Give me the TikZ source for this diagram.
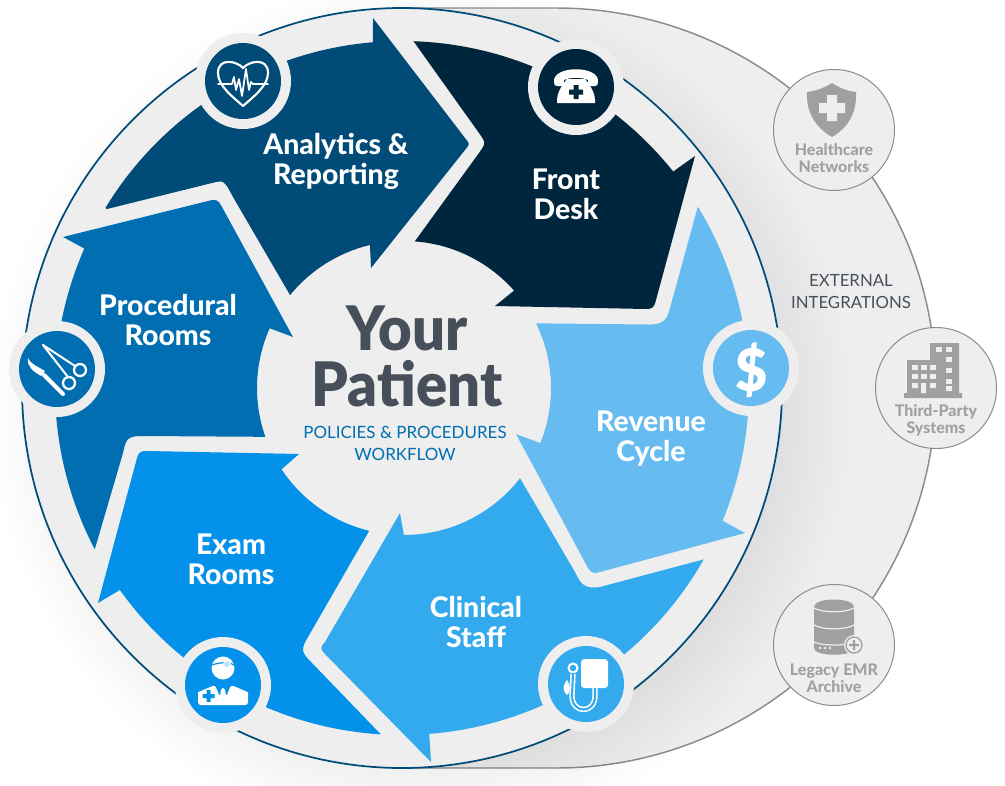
\documentclass[tikz,border=0pt]{standalone}
\usepackage{fontspec}
\setmainfont{Lato}
\newfontfamily\latoblack{Lato}[UprightFont=* Black,FakeStretch=0.945]
\newfontfamily\latoheavy{Lato}[UprightFont=* Heavy]
\definecolor{cAna}{HTML}{004B78}
\definecolor{cFro}{HTML}{00263E}
\definecolor{cRev}{HTML}{66BCF1}
\definecolor{cCli}{HTML}{33A9EE}
\definecolor{cExa}{HTML}{0491E9}
\definecolor{cPro}{HTML}{006EB0}
\definecolor{cBg}{HTML}{EEEEEE}
\definecolor{cInk}{HTML}{47505A}
\definecolor{cGr}{HTML}{A0A0A0}
\definecolor{cLine}{HTML}{8C8C8C}
% #1 colour, #2:#3 outer arc, #4 head path, #5:#6 inner arc, #7 notch path
\newcommand\ArrowShape[7]{\fill[#1] plot[domain=#2:#3,samples=40] ({402+347*cos(\x)},{388+347*sin(\x)}) #4 -- plot[domain=#5:#6,samples=30] ({404+147*cos(\x)},{388+147*sin(\x)}) #7 -- cycle;}
\tikzset{
  steplabel/.style={text=white,align=center,font=\latoheavy\fontsize{21.3}{22.5}\selectfont,inner sep=0pt},
  extlabel/.style={text=cGr,align=center,font=\latoheavy\fontsize{12}{12.9}\selectfont,inner sep=0pt},
  ring/.style={fill=cBg},
  extdisc/.style={fill=cBg,draw=cLine,line width=.75pt},
  icw/.style={draw=white,line cap=round,line join=round}
}
\begin{document}
\begin{tikzpicture}[x=.75pt,y=-.75pt]
\clip (0,0) rectangle (1005,785);
\fill[white] (0,0) rectangle (1005,785);
% external band
\path[fill=cBg,draw=cLine,line width=1.1pt] (402,8) -- (556,8) arc[start angle=-90,end angle=90,radius=380] -- (402,768) -- cycle;
% soft shadow: stacked faint discs
\foreach \rr in {360,365,...,430}{\fill[black,opacity=.005] (422,410) circle[radius=\rr];}
% main disc
\fill[cBg,draw=cAna,line width=1.3pt] (402,388) circle[radius=380];
% arrows
\ArrowShape{cAna}{211.25}{265.2}{-- (373,18) -- (465,138) .. controls (470,144) and (470,144) .. (465,150) -- (371,268) -- (370,246)}{256.5}{219.2}{-- (233,197) .. controls (224,180) and (224,180) .. (212,183) -- (107,209)}
\ArrowShape{cFro}{-88.1}{-38.6}{-- (695,156) -- (656,300) .. controls (654,308) and (652,309) .. (646,309) -- (495,306) -- (513.5,291)}{-41.5}{-85.8}{-- (479,153) .. controls (486,143) and (486,143) .. (479,133)}
\ArrowShape{cRev}{-31.5}{22.5}{-- (745,533) -- (600,572) .. controls (594,574) and (591,573) .. (588,568) -- (516,434) -- (540,443)}{22}{-26.1}{-- (648,324.5) .. controls (663,325) and (667,320) .. (670,308)}
\ArrowShape{cCli}{29.6}{85.5}{-- (431,762) -- (325,654) .. controls (320,648) and (320,648) .. (325,642) -- (400,513) -- (404,536)}{90}{37.9}{-- (575,572) .. controls (581,585) and (585,589) .. (600,587)}
\ArrowShape{cExa}{93.5}{144.4}{-- (98,603) -- (137,458) .. controls (139,451) and (142,451) .. (147,451) -- (299,454) -- (282,469)}{146.4}{103.7}{-- (308,637) .. controls (300,650) and (302,653) .. (312,663)}
\ArrowShape{cPro}{152.3}{203.7}{-- (63,237) -- (208,201) .. controls (217,198.5) and (218,200) .. (222,207) -- (293,337) -- (269,328)}{204}{160.6}{-- (143,436) .. controls (128,436) and (126,438) .. (123,453)}
% icon rings and discs
\fill[ring] (243,81) circle[radius=48]; \fill[cAna] (243,81) circle[radius=38];
\fill[ring] (576,87) circle[radius=48]; \fill[cFro] (576,87) circle[radius=38];
\fill[ring] (751,368) circle[radius=48]; \fill[cRev] (751,368) circle[radius=38];
\fill[ring] (586,684) circle[radius=48]; \fill[cCli] (586,684) circle[radius=38];
\fill[ring] (223,685) circle[radius=48]; \fill[cExa] (223,685) circle[radius=38];
\fill[ring] (57,369) circle[radius=48]; \fill[cPro] (57,369) circle[radius=38];
% heart
\begin{scope}[shift={(243,81)}]
\draw[icw,line width=1.6pt] (0,-13) .. controls (-6,-20) and (-25,-24) .. (-25,-8) .. controls (-25,5) and (-10,16) .. (0,25) .. controls (10,16) and (25,5) .. (25,-8) .. controls (25,-24) and (6,-20) .. (0,-13) -- cycle;
\draw[icw,line width=1.3pt] (-25,3) -- (-11,3) -- (-9,-4) -- (-7,9) -- (-4,-2) -- (-1,15) -- (3,-12) -- (6,9) -- (8,1) -- (10,3) -- (25,3);
\end{scope}
% phone
\begin{scope}[shift={(576,87)}]
\fill[white] (-22,-5) .. controls (-24,-22) and (24,-22) .. (22,-5) .. controls (22,-2) and (21,-1) .. (19,-1) -- (14,-1) .. controls (12,-1) and (12,-3) .. (12,-7) .. controls (5,-10) and (-5,-10) .. (-12,-7) .. controls (-12,-3) and (-12,-1) .. (-14,-1) -- (-19,-1) .. controls (-21,-1) and (-22,-2) .. (-22,-5) -- cycle;
\fill[white] (-9,-8) -- (9,-8) .. controls (16,0) and (19,8) .. (19,13) -- (19,16) -- (-19,16) -- (-19,13) .. controls (-19,8) and (-16,0) .. (-9,-8) -- cycle;
\fill[cFro] (-2.5,-2) rectangle (2.5,12) (-7,2.5) rectangle (7,7.5);
\end{scope}
\node[inner sep=0pt,text=white,font=\latoblack\fontsize{44}{44}\selectfont] (dollar) at (752,370) {\$};
% blood pressure cuff
\begin{scope}[shift={(586,684)}]
\fill[white,rounded corners=2.5pt] (-5,-25) rectangle (22,4);
\draw[white,line width=1.5pt] (-13,-16) circle[radius=4.5];
\draw[white,line width=4pt] (-13,-10) -- (-14,12) .. controls (-14,30) and (9,30) .. (9,12) -- (9,3);
\draw[cCli,line width=1.6pt] (-13,-11) -- (-14,12) .. controls (-14,30) and (9,30) .. (9,12) -- (9,4);
\fill[white] (-19,-4) .. controls (-24,2) and (-23,8) .. (-19,11) .. controls (-15,8) and (-15,2) .. (-19,-4) -- cycle;
\end{scope}
% doctor
\begin{scope}[shift={(223,685)}]
\fill[white] (0,-17) circle[radius=11.5];
\draw[cExa,line width=.9pt] (-11.5,-20) .. controls (-5,-22) and (5,-24) .. (11,-20);
\fill[white!75!cExa,draw=white,line width=.6pt] (4,-21) circle[radius=3.5];
\fill[white,rounded corners=2pt] (-25,20) -- (-25,10) .. controls (-25,7) and (-22,6) .. (-20,5) -- (-8,0) -- (-3,12) -- (-2,3) -- (2,3) -- (3,12) -- (8,0) -- (20,5) .. controls (22,6) and (25,7) .. (25,10) -- (25,20) -- cycle;
\fill[cExa] (-16.5,5) rectangle (-12.5,17) (-20.5,9) rectangle (-8.5,13);
\end{scope}
% scalpel and forceps
\begin{scope}[shift={(57,369)}]
\fill[white] (-29,-11) .. controls (-30,-2) and (-24,2) .. (-16,7) -- (-12,2) .. controls (-18,-2) and (-26,-4) .. (-29,-11) -- cycle;
\draw[icw,line width=3pt] (-13,6) -- (6,25);
\draw[icw,line width=1.5pt] (-14,-24) -- (18,-3);
\draw[icw,line width=1.5pt] (-14,-24) -- (11,8);
\draw[white,line width=1.7pt] (23,1) circle[radius=6];
\draw[white,line width=1.7pt] (12,14) circle[radius=6];
\end{scope}
% external circles
\draw[extdisc] (834,130) circle[radius=60.5];
\draw[extdisc] (936,388) circle[radius=60.5];
\draw[extdisc] (834,645) circle[radius=60.5];
% shield
\fill[cGr] (832,83) .. controls (822,89) and (815,91) .. (807,92) .. controls (806,112) and (815,127) .. (832,137) .. controls (849,127) and (857,112) .. (856,92) .. controls (848,91) and (841,89) .. (832,83) -- cycle;
\fill[cBg] (827,95) rectangle (837,121) (819,103) rectangle (845,113);
% buildings
\fill[cGr] (930,343) rectangle (959,395) (907,360) rectangle (938,395) (904,393) rectangle (962,398);
\foreach \xx in {936,946}{\foreach \yy in {347}{\fill[cBg] (\xx,\yy) rectangle +(6,5);}}
\foreach \yy in {357,368,379}{\fill[cBg] (946,\yy) rectangle +(6,5);}
\foreach \xx in {912,921,930}{\foreach \yy in {365,374}{\fill[cBg] (\xx,\yy) rectangle +(6,5);}}
\fill[cBg] (912,383) rectangle +(6,5) (930,383) rectangle +(6,5) (921,383) rectangle +(5,10) (946,386) rectangle +(6,5);
% database
\fill[cGr] (814,607) .. controls (814,597) and (854,597) .. (854,607) -- (854,648) .. controls (854,657) and (814,657) .. (814,648) -- cycle;
\draw[cBg,line width=.9pt] (814,608) .. controls (822,613) and (846,613) .. (854,608) (814,625) .. controls (822,630) and (846,630) .. (854,625) (814,642) .. controls (822,646) and (846,646) .. (854,642);
\fill[cBg] (820,648) circle[radius=1.3] (825,648) circle[radius=1.3] (830,648) circle[radius=1.3];
\fill[cBg] (854,645) circle[radius=10];
\draw[cGr,line width=1pt] (854,645) circle[radius=8];
\fill[cGr] (852.8,640) rectangle (855.2,650) (849,643.8) rectangle (859,646.2);
% labels
\node[steplabel] (ana) at (336,161) {Analytics \&\\Reporting};
\node[steplabel] (fro) at (566,194) {Front\\Desk};
\node[steplabel] (rev) at (651,439) {Revenue\\Cycle};
\node[steplabel] (cli) at (476,622) {Clinical\\Staff};
\node[steplabel] (exa) at (231,559) {Exam\\Rooms};
\node[steplabel] (pro) at (168,320) {Procedural\\Rooms};
\node[inner sep=0pt,text=cInk,align=center,font=\latoblack\fontsize{46}{42}\selectfont] (pat) at (407,356) {Your\\Patient};
\node[inner sep=0pt,text=cPro,align=center,font=\fontsize{12.7}{16.5}\selectfont] (pol) at (405,443) {POLICIES \& PROCEDURES\\WORKFLOW};
\node[inner sep=0pt,text=cInk,align=center,font=\fontsize{12.6}{16.5}\selectfont] (ext) at (851,292) {EXTERNAL\\INTEGRATIONS};
\node[extlabel] (hea) at (834,158) {Healthcare\\Networks};
\node[extlabel] (thi) at (936,420) {Third-Party\\Systems};
\node[extlabel] (leg) at (834,678) {Legacy EMR\\Archive};
\end{tikzpicture}
\end{document}
